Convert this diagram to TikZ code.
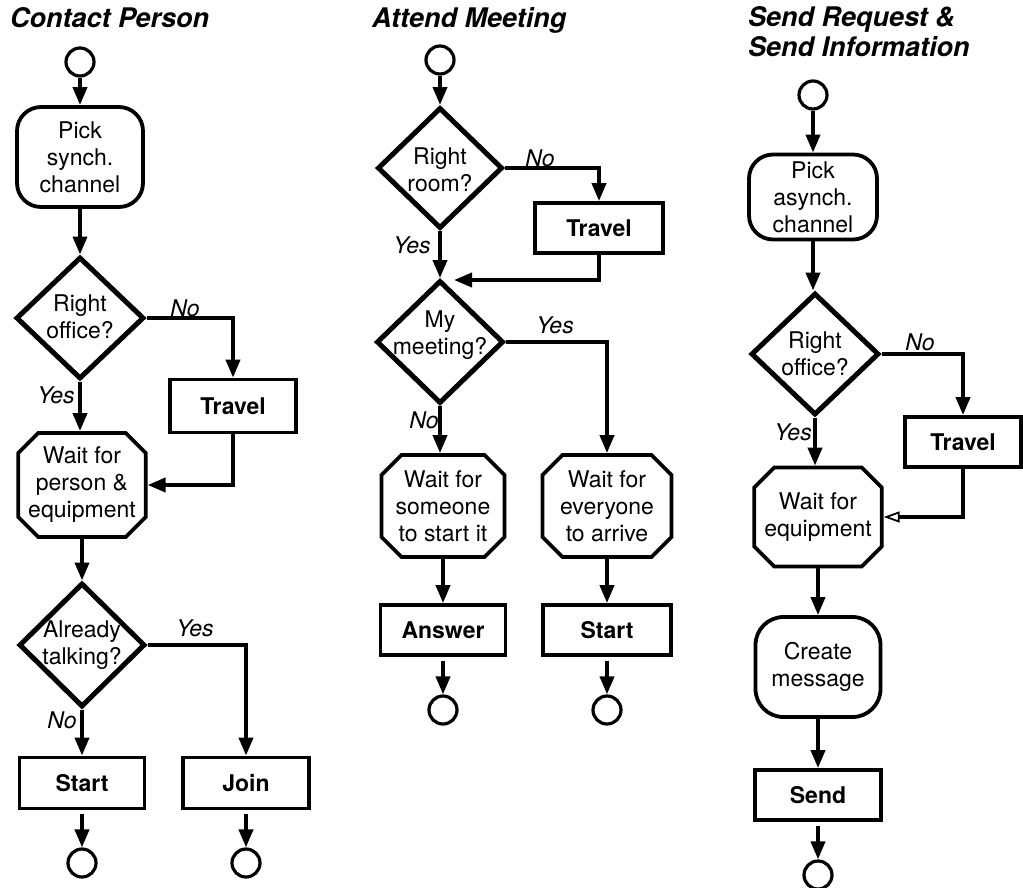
\documentclass[tikz,border=0pt]{standalone}
\usepackage{fontspec}
\setmainfont{TeX Gyre Heros}
\usetikzlibrary{shapes.geometric,shapes.misc,arrows.meta}

\begin{document}
\begin{tikzpicture}[x=1pt,y=-1pt,
  every node/.style={font=\fontsize{23}{27}\selectfont, inner sep=0pt},
  terminal/.style={circle, draw, line width=3.2pt, minimum size=28pt},
  roundbox/.style={rectangle, draw, line width=3.8pt, rounded corners=24pt, align=center},
  waitbox/.style={chamfered rectangle, chamfered rectangle xsep=10pt,
    chamfered rectangle ysep=10pt, draw, line width=3.8pt, align=center},
  actbox/.style={rectangle, draw, line width=3.8pt, font=\fontsize{23}{27}\selectfont\bfseries},
  decision/.style={diamond, draw, line width=5pt},
  dtext/.style={align=center},
  lbl/.style={font=\fontsize{23}{27}\selectfont\itshape},
  heading/.style={font=\fontsize{27}{30}\selectfont\bfseries\itshape, align=left},
  flow/.style={line width=3.8pt, -{Triangle[length=18pt,width=14pt]}},
  hollowflow/.style={line width=3.8pt, -{Triangle[open,length=16pt,width=11pt,line width=1.8pt]}}
]
\useasboundingbox (0,0) rectangle (1023,887);

% ---------------- Contact Person ----------------
\node[heading, anchor=west] (h1) at (10,18) {Contact Person};
\node[terminal] (s1) at (80,62) {};
\node[roundbox, minimum width=126pt, minimum height=100pt] (p1) at (80,157) {Pick\\synch.\\channel};
\node[decision, minimum width=128pt, minimum height=122pt] (d1) at (80,318) {};
\node[dtext] (d1t) at (80,317) {Right\\office?};
\node[actbox, minimum width=126pt, minimum height=53pt] (t1) at (233,406) {Travel};
\node[waitbox, minimum width=127pt, minimum height=104pt] (w1) at (82,485) {Wait for\\person \&\\equipment};
\node[decision, minimum width=126pt, minimum height=124pt] (d4) at (82,645) {};
\node[dtext] (d4t) at (82,645) {Already\\talking?};
\node[actbox, minimum width=125pt, minimum height=51pt] (st1) at (82,783) {Start};
\node[actbox, minimum width=126pt, minimum height=51pt] (jn1) at (246,783) {Join};
\node[terminal] (e1) at (82,863) {};
\node[terminal] (e2) at (246,863) {};

\node[lbl] (l1) at (185,308) {No};
\node[lbl] (l2) at (56,395) {Yes};
\node[lbl] (l3) at (195,628) {Yes};
\node[lbl] (l4) at (62,720) {No};

\draw[flow] (s1.south) -- (p1.north);
\draw[flow] (p1.south) -- (d1.north);
\draw[flow] (d1.east) -| (t1.north);
\draw[flow] (d1.south) -- (d1.south |- w1.north);
\draw[flow] (t1.south) |- (w1.east);
\draw[flow] (w1.south) -- (d4.north);
\draw[flow] (d4.south) -- (st1.north);
\draw[flow] (d4.east) -| (jn1.north);
\draw[flow, shorten <=4pt] (st1.south) -- (e1.north);
\draw[flow, shorten <=4pt] (jn1.south) -- (e2.north);

% ---------------- Attend Meeting ----------------
\node[heading, anchor=west] (h2) at (372,20) {Attend Meeting};
\node[terminal] (s2) at (440,60) {};
\node[decision, minimum width=125pt, minimum height=121pt] (d2) at (440,168) {};
\node[dtext] (d2t) at (440,170) {Right\\room?};
\node[actbox, minimum width=128pt, minimum height=50pt] (t2) at (599,228) {Travel};
\node[decision, minimum width=127pt, minimum height=123pt] (d3) at (440,342) {};
\node[dtext] (d3t) at (440,335) {My\\meeting?};
\node[waitbox, minimum width=123pt, minimum height=102pt] (w2) at (443,506) {Wait for\\someone\\to start it};
\node[waitbox, minimum width=129pt, minimum height=102pt] (w3) at (607,506) {Wait for\\everyone\\to arrive};
\node[actbox, minimum width=125pt, minimum height=50pt] (a2) at (443,630) {Answer};
\node[actbox, minimum width=128pt, minimum height=50pt] (st2) at (607,630) {Start};
\node[terminal] (e3) at (443,710) {};
\node[terminal] (e4) at (607,710) {};

\node[lbl] (l5) at (540,158) {No};
\node[lbl] (l6) at (412,245) {Yes};
\node[lbl] (l7) at (555,325) {Yes};
\node[lbl] (l8) at (424,420) {No};

\coordinate (m2) at ([xshift=14pt,yshift=-2pt]d3.north);
\draw[flow] (s2.south) -- (d2.north);
\draw[flow] (d2.east) -| (t2.north);
\draw[flow] (d2.south) -- (d3.north);
\draw[flow] (t2.south) |- (m2);
\draw[flow] (d3.east) -| (w3.north);
\draw[flow] (d3.south) -- (d3.south |- w2.north);
\draw[flow] (w2.south) -- (a2.north);
\draw[flow] (w3.south) -- (st2.north);
\draw[flow, shorten <=4pt] (a2.south) -- (e3.north);
\draw[flow, shorten <=4pt] (st2.south) -- (e4.north);

% ---------------- Send Request & Send Information ----------------
\node[heading, anchor=north west] (h3) at (748,6) {Send Request \&\\Send Information};
\node[terminal] (s3) at (813,95) {};
\node[roundbox, minimum width=128pt, minimum height=85pt] (p3) at (813,197) {Pick\\asynch.\\channel};
\node[decision, minimum width=128pt, minimum height=122pt] (d5) at (815,354) {};
\node[dtext] (d5t) at (815,354) {Right\\office?};
\node[actbox, minimum width=116pt, minimum height=50pt] (t3) at (963,442) {Travel};
\node[waitbox, minimum width=127pt, minimum height=99pt] (w4) at (818,517) {Wait for\\equipment};
\node[roundbox, rounded corners=28pt, minimum width=125pt, minimum height=100pt] (cm) at (818,667) {Create\\message};
\node[actbox, minimum width=126pt, minimum height=50pt] (sd) at (818,795) {Send};
\node[terminal] (e5) at (818,875) {};

\node[lbl] (l9) at (920,342) {No};
\node[lbl] (l10) at (793,432) {Yes};

\draw[flow] (s3.south) -- (p3.north);
\draw[flow] (p3.south) -- (p3.south |- d5.north);
\draw[flow] (d5.east) -| (t3.north);
\draw[flow] (d5.south) -- (d5.south |- w4.north);
\draw[hollowflow] (t3.south) |- (w4.east);
\draw[flow] (w4.south) -- (cm.north);
\draw[flow] (cm.south) -- (sd.north);
\draw[flow, shorten <=4pt] (sd.south) -- (e5.north);
\end{tikzpicture}
\end{document}
